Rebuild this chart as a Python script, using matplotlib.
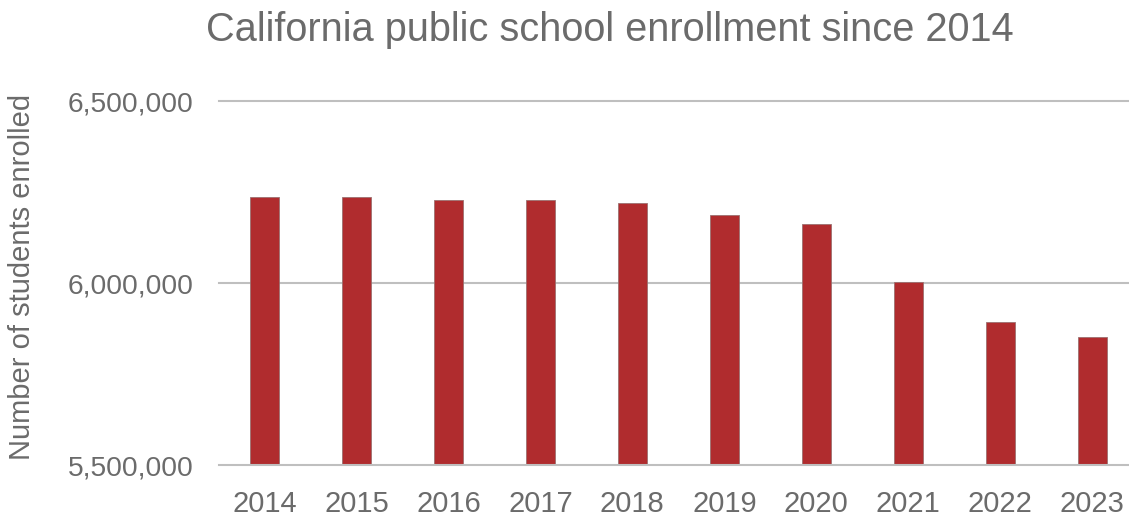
import numpy as np
import matplotlib
matplotlib.use("Agg")
import matplotlib.pyplot as plt

years = ["2014", "2015", "2016", "2017", "2018", "2019", "2020", "2021", "2022", "2023"]
enrollment = [6236672, 6235520, 6226989, 6228235, 6220413, 6186278, 6163001, 6002523, 5892240, 5852544]
yticks = [5500000, 6000000, 6500000]

plt.rcParams['font.family'] = ['Liberation Sans', 'DejaVu Sans']
txt = '#6b6b6b'
grid = '#bfbfbf'

W, H = 1129, 517
fig = plt.figure(figsize=(W / 100, H / 100), dpi=100)
ax = fig.add_axes([218.5 / W, 1 - 465 / H, (1129 - 218.5) / W, (465 - 101) / H])

x = np.arange(len(years))
ax.bar(x, enrollment, width=0.315, color='#b02c2e', edgecolor='#9c7070', linewidth=0.6, zorder=3)

ax.set_xlim(-0.5, 9.4)
ax.set_ylim(5500000, 6500000)
ax.set_yticks(yticks)
ax.set_yticklabels([f"{v:,}" for v in yticks])
ax.set_xticks(x)
ax.set_xticklabels(years)

for v in yticks[1:]:
    ax.axhline(v, color=grid, lw=1.5, zorder=1, clip_on=False)

for s in ['top', 'right', 'left']:
    ax.spines[s].set_visible(False)
ax.spines['bottom'].set_color(grid)
ax.spines['bottom'].set_linewidth(1.5)
ax.spines['bottom'].set_zorder(4)

ax.tick_params(axis='both', length=0, labelcolor=txt)
ax.tick_params(axis='y', pad=18, labelsize=20.3)
ax.tick_params(axis='x', pad=18, labelsize=21)

fig.text(22 / W, 1 - 277 / H, "Number of students enrolled", rotation=90,
         ha='center', va='center', fontsize=21, color=txt)
fig.text(610 / W, 1 - 30 / H, "California public school enrollment since 2014",
         ha='center', va='center', fontsize=28.6, color=txt)

fig.savefig("out.png", dpi=100)
